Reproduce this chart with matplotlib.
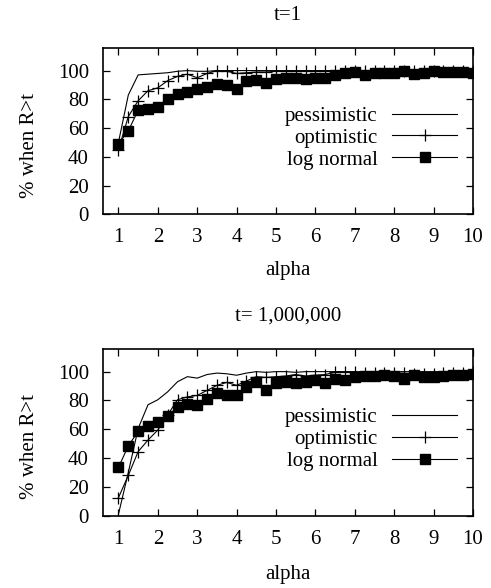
import numpy as np
import matplotlib
matplotlib.use("Agg")
import matplotlib.pyplot as plt

alpha = [1.0, 1.25, 1.5, 1.75, 2.0, 2.25, 2.5, 2.75, 3.0, 3.25, 3.5, 3.75,
         4.0, 4.25, 4.5, 4.75, 5.0, 5.25, 5.5, 5.75, 6.0, 6.25, 6.5, 6.75,
         7.0, 7.25, 7.5, 7.75, 8.0, 8.25, 8.5, 8.75, 9.0, 9.25, 9.5, 9.75, 10.0]

# t = 1
pess_t1 = [50, 83, 97, 97.5, 98, 98.5, 99.5, 100, 99.5, 99.5, 100, 100,
           100, 100, 100, 100, 100, 100, 100, 100, 100, 100, 100, 100,
           100, 100, 100, 100, 100, 100, 100, 100, 100, 100, 100, 100, 100]
opt_t1 = [45, 68, 79, 86, 88, 93, 96, 97.5, 95, 98, 100, 99.5,
          98, 98.5, 99, 99, 99.5, 99.5, 99.5, 100, 100, 100, 100, 100,
          100, 100, 100, 100, 100, 100, 100, 100, 100, 100, 100, 100, 100]
logn_t1 = [49, 58, 72.5, 73, 75, 80.5, 83.5, 85, 87.5, 88.5, 90.5, 90,
           87.5, 93, 93.5, 91.5, 94, 95, 95, 94, 95, 95, 97, 98,
           99, 97, 98, 98, 98.5, 100, 97.5, 98.5, 99.5, 99, 99, 99, 98.5]

# t = 1,000,000
pess_t6 = [1, 30, 60.5, 77, 80.5, 86, 93, 96.5, 95.5, 98, 99, 98.5,
           97.5, 99, 100, 99.5, 100, 100, 99.5, 100, 100, 100, 100, 100,
           100, 100, 100, 100, 100, 100, 100, 100, 100, 100, 100, 100, 100]
opt_t6 = [12.5, 28, 44.5, 52.5, 59.5, 70, 80.5, 82.5, 83.5, 87, 90.5, 92.5,
          90.5, 93.5, 96.5, 96, 96.5, 97, 98, 97, 97.5, 98, 99.5, 99.5,
          99.5, 99, 99, 99, 99, 99, 98.5, 98.5, 98.5, 99, 99, 99, 99.5]
logn_t6 = [33.5, 48.5, 58.5, 62, 65, 69, 75.5, 77.5, 76.5, 81, 85, 83.5,
           84, 89.5, 93, 87.5, 92, 93, 92, 92.5, 94, 92, 95, 94,
           96.5, 97, 97, 97.5, 97, 95, 97.5, 96.5, 96.5, 97, 97.5, 98, 98.5]

titles = ["t=1", "t= 1,000,000"]
series_names = ["pessimistic", "optimistic", "log normal"]
xticks = [1, 2, 3, 4, 5, 6, 7, 8, 9, 10]
yticks = [0, 20, 40, 60, 80, 100]

W, H = 491, 588
plt.rcParams['font.family'] = ['Liberation Serif', 'DejaVu Serif']
fs = 15
fig = plt.figure(figsize=(W / 100, H / 100), dpi=100)

def fx(px):
    return px / W

def fy(py):
    return 1 - py / H

panels = [
    dict(top=48.3, bot=214.3, data=(pess_t1, opt_t1, logn_t1), title=titles[0],
         title_y=15, xlabel_y=271, leg_y=0.46),
    dict(top=349.3, bot=515.7, data=(pess_t6, opt_t6, logn_t6), title=titles[1],
         title_y=316, xlabel_y=574, leg_y=0.458),
]
left, right = 102.7, 473.0

for p in panels:
    ax = fig.add_axes([fx(left), fy(p['bot']), fx(right - left), (p['bot'] - p['top']) / H])
    pess, opt, logn = p['data']
    ax.plot(alpha, pess, color='black', lw=0.8, label=series_names[0])
    ax.plot(alpha, opt, color='black', lw=0.8, marker='+', markersize=8,
            markeredgewidth=0.9, label=series_names[1])
    ax.plot(alpha, logn, color='black', lw=0.8, marker='s', markersize=7.5,
            label=series_names[2])
    ax.set_xlim(0.6, 10)
    ax.set_ylim(0, 115.5)
    ax.set_xticks(xticks)
    ax.set_yticks(yticks)
    ax.tick_params(direction='in', top=True, right=True, length=5, width=0.9,
                   labelsize=fs)
    ax.tick_params(axis='x', pad=10)
    ax.tick_params(axis='y', pad=10)
    for s in ax.spines.values():
        s.set_linewidth(1.2)
    leg = ax.legend(loc='center right', bbox_to_anchor=(0.957, p['leg_y']),
                    frameon=False, markerfirst=False, fontsize=fs,
                    handlelength=3.1, handletextpad=0.72, labelspacing=0.11,
                    borderpad=0, borderaxespad=0)
    fig.text(fx((left + right) / 2), fy(p['title_y']), p['title'], ha='center',
             va='center', fontsize=fs)
    fig.text(fx((left + right) / 2), fy(p['xlabel_y']), "alpha", ha='center',
             va='center', fontsize=fs)
    fig.text(fx(30), fy((p['top'] + p['bot']) / 2 + 14), "% when R>t", ha='center',
             va='center', rotation=90, fontsize=fs)

fig.savefig("out.png", dpi=100)
